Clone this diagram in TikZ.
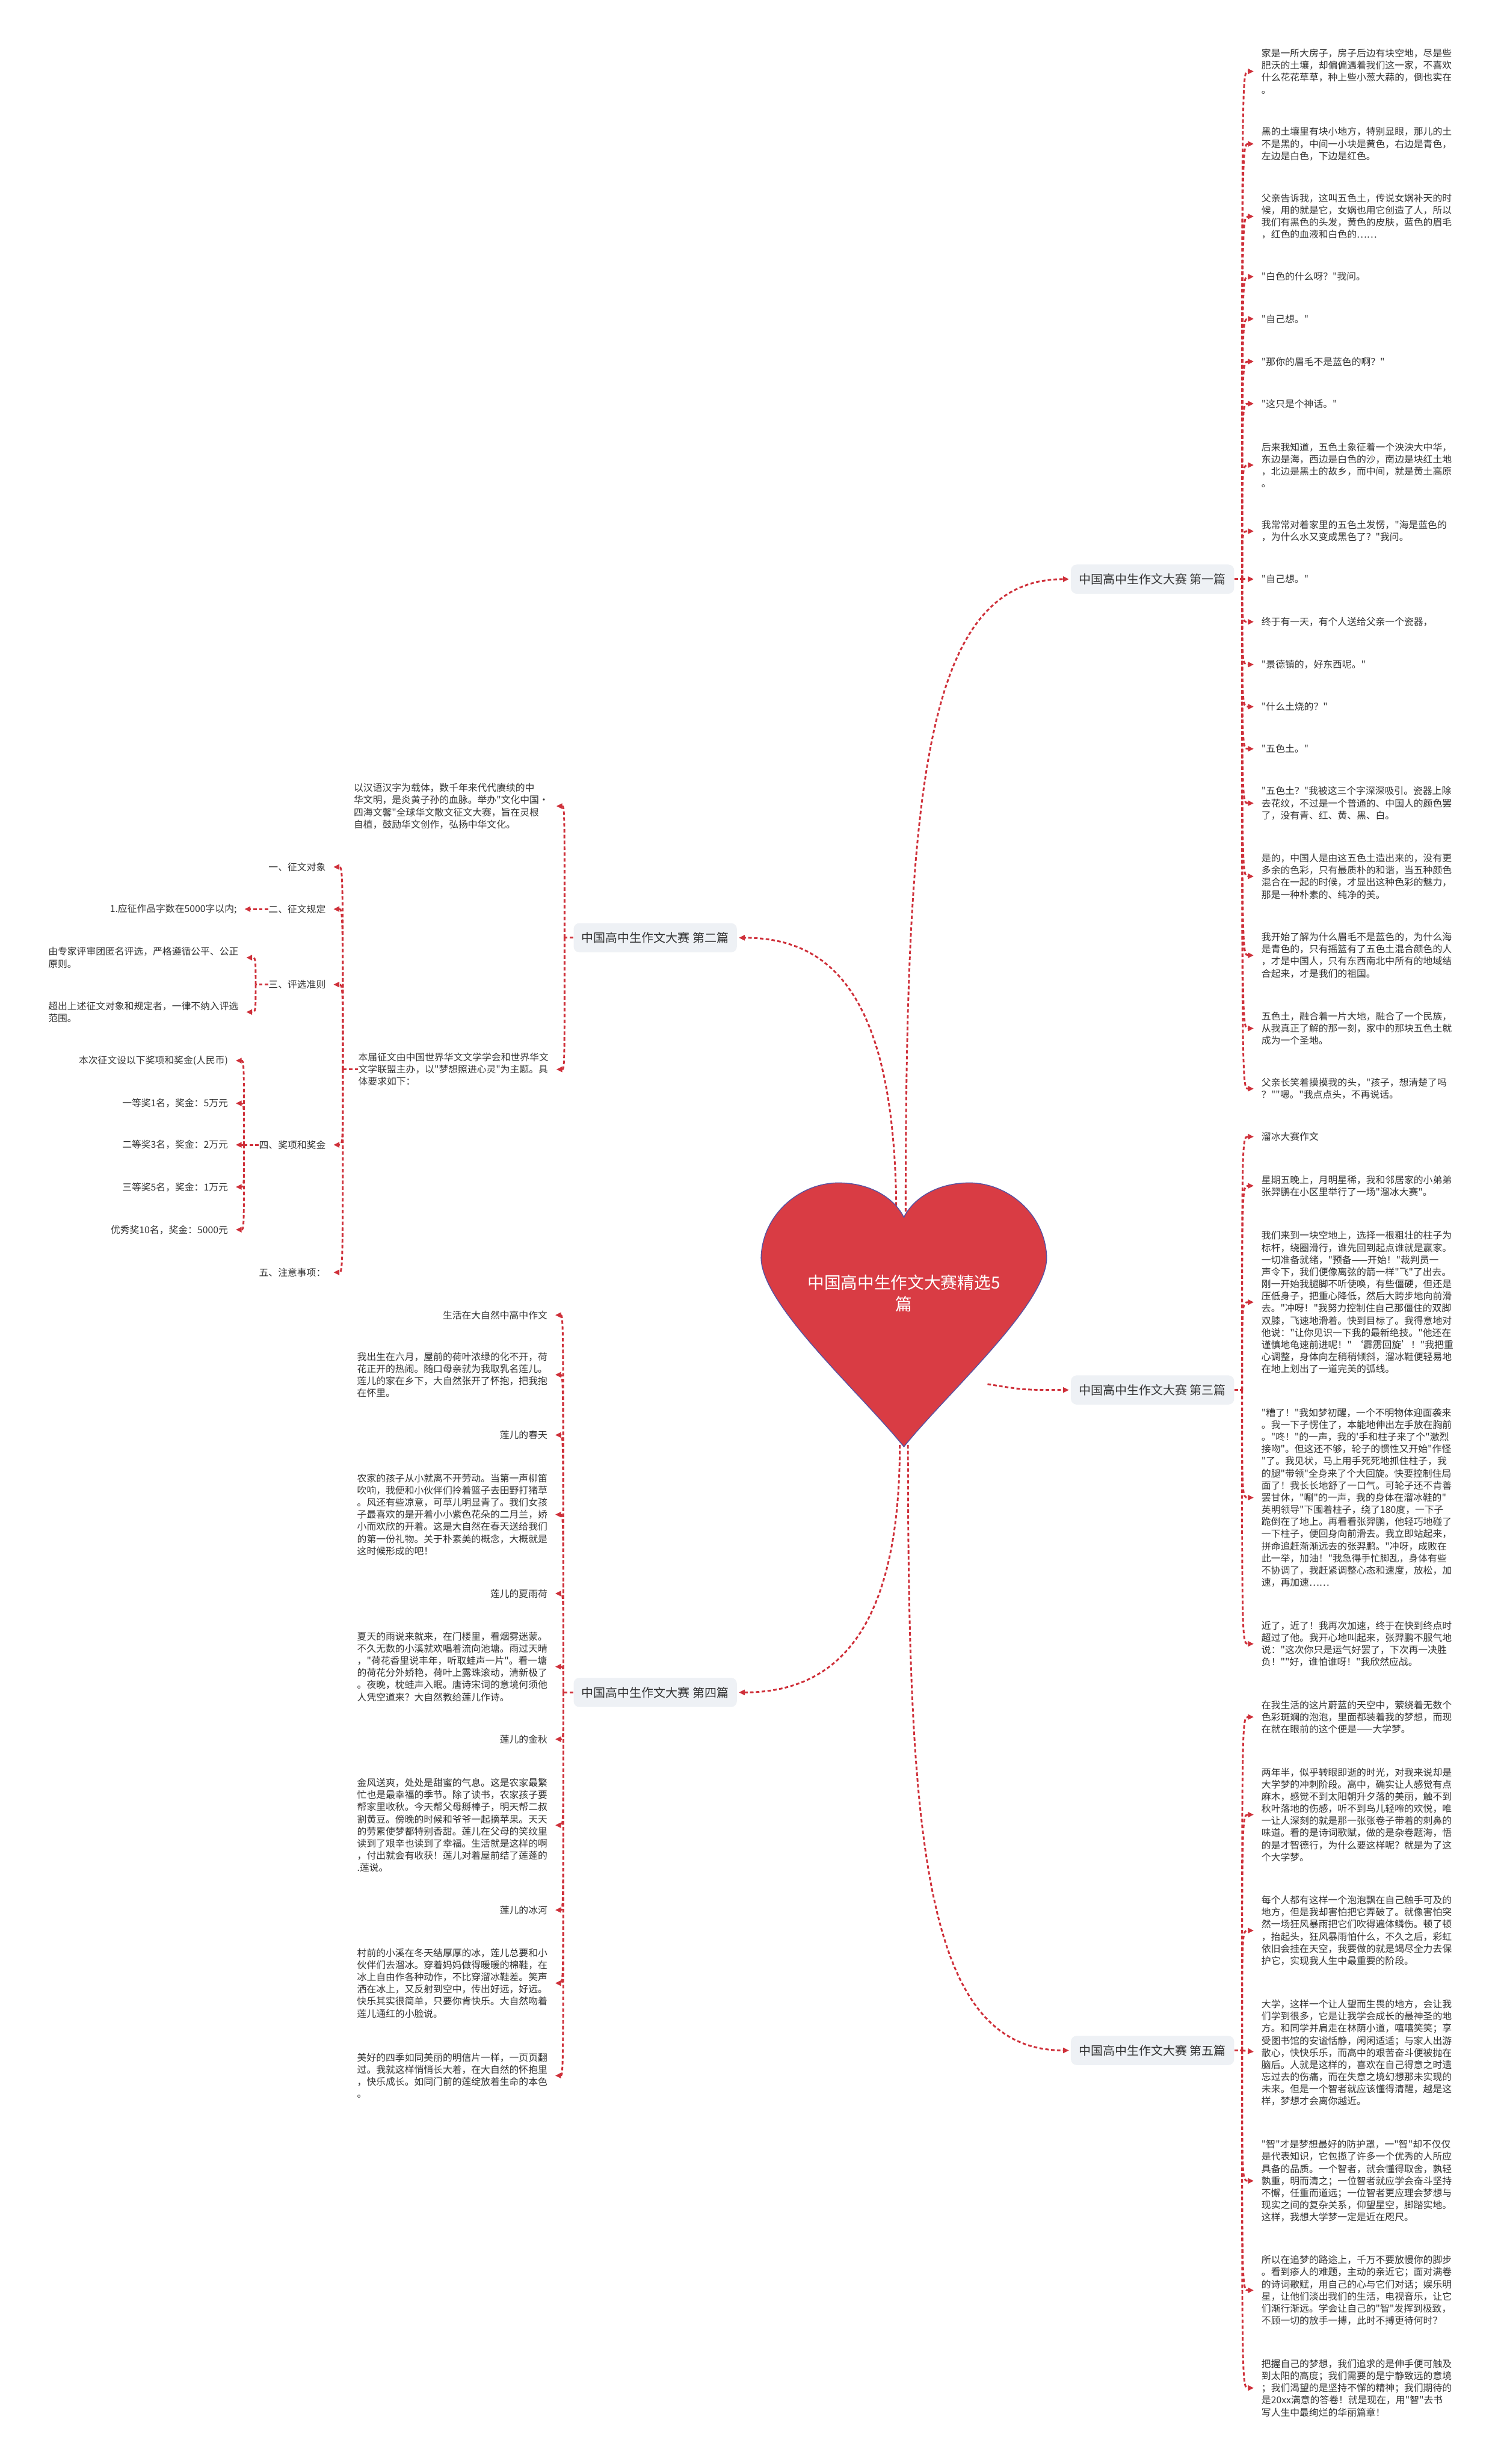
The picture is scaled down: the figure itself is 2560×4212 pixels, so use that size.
\documentclass[tikz,border=0pt]{standalone}
\usepackage{xcolor}
\usepackage{fontspec}
\usepackage{tikz}
\usetikzlibrary{arrows.meta, positioning, calc}
\newfontfamily\cjk{Noto Sans CJK SC}
\definecolor{linkred}{RGB}{207,48,58}
\definecolor{heartred}{RGB}{217,60,68}
\definecolor{heartedge}{RGB}{90,82,160}
\definecolor{boxfill}{RGB}{238,241,245}
\definecolor{inkgray}{RGB}{51,51,51}
\tikzstyle{leaf} = [inner sep=0pt, align=left, text=inkgray, font=\cjk\fontsize{9.25}{11.8}\selectfont]
\tikzstyle{branch} = [rectangle, rounded corners=2mm, minimum width=55.8mm, minimum height=10mm, fill=boxfill, text=inkgray, font=\cjk\fontsize{11.7}{14}\selectfont]
\tikzstyle{link} = [linkred, line width=0.6mm, dash pattern=on 1.2mm off 0.8mm]
\tikzstyle{arrow} = [link, -{Triangle[length=2mm,width=1.8mm]}, shorten >=2.6mm]

\begin{document}
\begin{tikzpicture}[x=0.2mm, y=-0.2mm]
    \path [use as bounding box, fill=white] (0,0) rectangle (2560,4212);

    % Heart connectors
    \coordinate (ht1) at (1548,2081);
    \coordinate (ht2) at (1532,2081);
    \coordinate (hb1) at (1538,2470);
    \coordinate (hb2) at (1552,2470);
    \coordinate (hr) at (1688,2366);
    \node (b1) [branch] at (1970,990) {中国高中生作文大赛 第一篇};
    \node (b2) [branch] at (1120,1603) {中国高中生作文大赛 第二篇};
    \node (b3) [branch] at (1970,2376) {中国高中生作文大赛 第三篇};
    \node (b4) [branch] at (1120,2893) {中国高中生作文大赛 第四篇};
    \node (b5) [branch] at (1970,3505) {中国高中生作文大赛 第五篇};
    \draw [arrow, shorten >=0.6mm] (ht1) .. controls (1548,1350) and (1580,990) .. (b1.west);
    \draw [arrow, shorten >=0.6mm] (ht2) .. controls (1532,1700) and (1420,1603) .. (b2.east);
    \draw [arrow, shorten >=0.6mm] (hr) .. controls (1750,2376) .. (b3.west);
    \draw [arrow, shorten >=0.6mm] (hb1) .. controls (1538,2800) and (1420,2893) .. (b4.east);
    \draw [arrow, shorten >=0.6mm] (hb2) .. controls (1552,3150) and (1580,3505) .. (b5.west);

    % Heart
    \filldraw [fill=heartred, draw=heartedge, line width=0.3mm]
        (1545,2081) .. controls (1530,2050) and (1490,2022) .. (1433,2022)
        .. controls (1368,2022) and (1303,2075) .. (1301,2150)
        .. controls (1301,2230) and (1470,2380) .. (1545,2473)
        .. controls (1620,2380) and (1789,2230) .. (1789,2150)
        .. controls (1787,2075) and (1722,2022) .. (1657,2022)
        .. controls (1600,2022) and (1560,2050) .. (1545,2081) -- cycle;
    \node (title) [font=\cjk\fontsize{16.2}{21}\selectfont, text=white, align=center] at (1545,2211) {中国高中生作文大赛精选5\\篇};

    % 第一篇
    \coordinate (j1) at (2123,990);
    \draw [link] (b1.east) -- (j1);
    \node (p1a) [leaf, anchor=west] at (2156,122) {家是一所大房子，房子后边有块空地，尽是些\\肥沃的土壤，却偏偏遇着我们这一家，不喜欢\\什么花花草草，种上些小葱大蒜的，倒也实在\\。};
    \node (p1b) [leaf, anchor=west] at (2156,246) {黑的土壤里有块小地方，特别显眼，那儿的土\\不是黑的，中间一小块是黄色，右边是青色，\\左边是白色，下边是红色。};
    \node (p1c) [leaf, anchor=west] at (2156,370) {父亲告诉我，这叫五色土，传说女娲补天的时\\候，用的就是它，女娲也用它创造了人，所以\\我们有黑色的头发，黄色的皮肤，蓝色的眉毛\\，红色的血液和白色的……};
    \node (p1d) [leaf, anchor=west] at (2156,473) {"白色的什么呀？"我问。};
    \node (p1e) [leaf, anchor=west] at (2156,545) {"自己想。"};
    \node (p1f) [leaf, anchor=west] at (2156,618) {"那你的眉毛不是蓝色的啊？"};
    \node (p1g) [leaf, anchor=west] at (2156,690) {"这只是个神话。"};
    \node (p1h) [leaf, anchor=west] at (2156,795) {后来我知道，五色土象征着一个泱泱大中华，\\东边是海，西边是白色的沙，南边是块红土地\\，北边是黑土的故乡，而中间，就是黄土高原\\。};
    \node (p1i) [leaf, anchor=west] at (2156,908) {我常常对着家里的五色土发愣，"海是蓝色的\\，为什么水又变成黑色了？"我问。};
    \node (p1j) [leaf, anchor=west] at (2156,990) {"自己想。"};
    \node (p1k) [leaf, anchor=west] at (2156,1063) {终于有一天，有个人送给父亲一个瓷器，};
    \node (p1l) [leaf, anchor=west] at (2156,1136) {"景德镇的，好东西呢。"};
    \node (p1m) [leaf, anchor=west] at (2156,1208) {"什么土烧的？"};
    \node (p1n) [leaf, anchor=west] at (2156,1280) {"五色土。"};
    \node (p1o) [leaf, anchor=west] at (2156,1373) {"五色土？"我被这三个字深深吸引。瓷器上除\\去花纹，不过是一个普通的、中国人的颜色罢\\了，没有青、红、黄、黑、白。};
    \node (p1p) [leaf, anchor=west] at (2156,1498) {是的，中国人是由这五色土造出来的，没有更\\多余的色彩，只有最质朴的和谐，当五种颜色\\混合在一起的时候，才显出这种色彩的魅力，\\那是一种朴素的、纯净的美。};
    \node (p1q) [leaf, anchor=west] at (2156,1633) {我开始了解为什么眉毛不是蓝色的，为什么海\\是青色的，只有摇篮有了五色土混合颜色的人\\，才是中国人，只有东西南北中所有的地域结\\合起来，才是我们的祖国。};
    \node (p1r) [leaf, anchor=west] at (2156,1758) {五色土，融合着一片大地，融合了一个民族，\\从我真正了解的那一刻，家中的那块五色土就\\成为一个圣地。};
    \node (p1s) [leaf, anchor=west] at (2156,1861) {父亲长笑着摸摸我的头，"孩子，想清楚了吗\\？""嗯。"我点点头，不再说话。};
    \draw [arrow] (j1) .. controls (j1 |- p1a.west) .. (p1a.west);
    \draw [arrow] (j1) .. controls (j1 |- p1b.west) .. (p1b.west);
    \draw [arrow] (j1) .. controls (j1 |- p1c.west) .. (p1c.west);
    \draw [arrow] (j1) .. controls (j1 |- p1d.west) .. (p1d.west);
    \draw [arrow] (j1) .. controls (j1 |- p1e.west) .. (p1e.west);
    \draw [arrow] (j1) .. controls (j1 |- p1f.west) .. (p1f.west);
    \draw [arrow] (j1) .. controls (j1 |- p1g.west) .. (p1g.west);
    \draw [arrow] (j1) .. controls (j1 |- p1h.west) .. (p1h.west);
    \draw [arrow] (j1) .. controls (j1 |- p1i.west) .. (p1i.west);
    \draw [arrow] (j1) -- (p1j.west);
    \draw [arrow] (j1) .. controls (j1 |- p1k.west) .. (p1k.west);
    \draw [arrow] (j1) .. controls (j1 |- p1l.west) .. (p1l.west);
    \draw [arrow] (j1) .. controls (j1 |- p1m.west) .. (p1m.west);
    \draw [arrow] (j1) .. controls (j1 |- p1n.west) .. (p1n.west);
    \draw [arrow] (j1) .. controls (j1 |- p1o.west) .. (p1o.west);
    \draw [arrow] (j1) .. controls (j1 |- p1p.west) .. (p1p.west);
    \draw [arrow] (j1) .. controls (j1 |- p1q.west) .. (p1q.west);
    \draw [arrow] (j1) .. controls (j1 |- p1r.west) .. (p1r.west);
    \draw [arrow] (j1) .. controls (j1 |- p1s.west) .. (p1s.west);

    % 第二篇
    \coordinate (j2) at (965,1603);
    \draw [link] (b2.west) -- (j2);
    \node (p2a) [leaf, anchor=east] at (938,1378) {以汉语汉字为载体，数千年来代代赓续的中\\华文明，是炎黄子孙的血脉。举办"文化中国·\\四海文馨"全球华文散文征文大赛，旨在灵根\\自植，鼓励华文创作，弘扬中华文化。};
    \node (p2b) [leaf, anchor=east] at (938,1828) {本届征文由中国世界华文文学学会和世界华文\\文学联盟主办，以"梦想照进心灵"为主题。具\\体要求如下：};
    \draw [arrow] (j2) .. controls (j2 |- p2a.east) .. (p2a.east);
    \draw [arrow] (j2) .. controls (j2 |- p2b.east) .. (p2b.east);

    % 要求
    \coordinate (j2b) at (586,1828);
    \draw [link] (p2b.west) -- (j2b);
    \node (c1) [leaf, anchor=east] at (557,1482) {一、征文对象};
    \node (c2) [leaf, anchor=east] at (557,1554) {二、征文规定};
    \node (c3) [leaf, anchor=east] at (557,1683) {三、评选准则};
    \node (c4) [leaf, anchor=east] at (557,1957) {四、奖项和奖金};
    \node (c5) [leaf, anchor=east] at (557,2175) {五、注意事项：};
    \draw [arrow] (j2b) .. controls (j2b |- c1.east) .. (c1.east);
    \draw [arrow] (j2b) .. controls (j2b |- c2.east) .. (c2.east);
    \draw [arrow] (j2b) .. controls (j2b |- c3.east) .. (c3.east);
    \draw [arrow] (j2b) .. controls (j2b |- c4.east) .. (c4.east);
    \draw [arrow] (j2b) .. controls (j2b |- c5.east) .. (c5.east);

    % 征文规定, 评选准则
    \node (g1) [leaf, anchor=east] at (405,1554) {1.应征作品字数在5000字以内;};
    \draw [arrow] (c2.west) -- (g1.east);
    \coordinate (j2c) at (437,1683);
    \draw [link] (c3.west) -- (j2c);
    \node (g2) [leaf, anchor=east] at (408,1637) {由专家评审团匿名评选，严格遵循公平、公正\\原则。};
    \node (g3) [leaf, anchor=east] at (408,1730) {超出上述征文对象和规定者，一律不纳入评选\\范围。};
    \draw [arrow] (j2c) .. controls (j2c |- g2.east) .. (g2.east);
    \draw [arrow] (j2c) .. controls (j2c |- g3.east) .. (g3.east);

    % 奖项和奖金
    \coordinate (j2d) at (417,1957);
    \draw [link] (c4.west) -- (j2d);
    \node (h1) [leaf, anchor=east] at (390,1813) {本次征文设以下奖项和奖金(人民币)};
    \node (h2) [leaf, anchor=east] at (390,1886) {一等奖1名，奖金：5万元};
    \node (h3) [leaf, anchor=east] at (390,1957) {二等奖3名，奖金：2万元};
    \node (h4) [leaf, anchor=east] at (390,2029) {三等奖5名，奖金：1万元};
    \node (h5) [leaf, anchor=east] at (390,2102) {优秀奖10名，奖金：5000元};
    \draw [arrow] (j2d) .. controls (j2d |- h1.east) .. (h1.east);
    \draw [arrow] (j2d) .. controls (j2d |- h2.east) .. (h2.east);
    \draw [arrow] (j2d) -- (h3.east);
    \draw [arrow] (j2d) .. controls (j2d |- h4.east) .. (h4.east);
    \draw [arrow] (j2d) .. controls (j2d |- h5.east) .. (h5.east);

    % 第三篇
    \coordinate (j3) at (2123,2376);
    \draw [link] (b3.east) -- (j3);
    \node (p3a) [leaf, anchor=west] at (2156,1943) {溜冰大赛作文};
    \node (p3b) [leaf, anchor=west] at (2156,2027) {星期五晚上，月明星稀，我和邻居家的小弟弟\\张羿鹏在小区里举行了一场"溜冰大赛"。};
    \node (p3c) [leaf, anchor=west] at (2156,2226) {我们来到一块空地上，选择一根粗壮的柱子为\\标杆，绕圈滑行，谁先回到起点谁就是赢家。\\一切准备就绪，"预备——开始！"裁判员一\\声令下，我们便像离弦的箭一样"飞"了出去。\\刚一开始我腿脚不听使唤，有些僵硬，但还是\\压低身子，把重心降低，然后大跨步地向前滑\\去。"冲呀！"我努力控制住自己那僵住的双脚\\双膝，飞速地滑着。快到目标了。我得意地对\\他说："让你见识一下我的最新绝技。"他还在\\谨慎地龟速前进呢！" ‘霹雳回旋’！"我把重\\心调整，身体向左稍稍倾斜，溜冰鞋便轻易地\\在地上划出了一道完美的弧线。};
    \node (p3d) [leaf, anchor=west] at (2156,2560) {"糟了！"我如梦初醒，一个不明物体迎面袭来\\。我一下子愣住了，本能地伸出左手放在胸前\\。"咚！"的一声，我的'手和柱子来了个"激烈\\接吻"。但这还不够，轮子的惯性又开始"作怪\\"了。我见状，马上用手死死地抓住柱子，我\\的腿"带领"全身来了个大回旋。快要控制住局\\面了！我长长地舒了一口气。可轮子还不肯善\\罢甘休，"唰"的一声，我的身体在溜冰鞋的"\\英明领导"下围着柱子，绕了180度，一下子\\跪倒在了地上。再看看张羿鹏，他轻巧地碰了\\一下柱子，便回身向前滑去。我立即站起来，\\拼命追赶渐渐远去的张羿鹏。"冲呀，成败在\\此一举，加油！"我急得手忙脚乱，身体有些\\不协调了，我赶紧调整心态和速度，放松，加\\速，再加速……};
    \node (p3e) [leaf, anchor=west] at (2156,2810) {近了，近了！我再次加速，终于在快到终点时\\超过了他。我开心地叫起来，张羿鹏不服气地\\说："这次你只是运气好罢了，下次再一决胜\\负！""好，谁怕谁呀！"我欣然应战。};
    \draw [arrow] (j3) .. controls (j3 |- p3a.west) .. (p3a.west);
    \draw [arrow] (j3) .. controls (j3 |- p3b.west) .. (p3b.west);
    \draw [arrow] (j3) .. controls (j3 |- p3c.west) .. (p3c.west);
    \draw [arrow] (j3) .. controls (j3 |- p3d.west) .. (p3d.west);
    \draw [arrow] (j3) .. controls (j3 |- p3e.west) .. (p3e.west);

    % 第四篇
    \coordinate (j4) at (963,2893);
    \draw [link] (b4.west) -- (j4);
    \node (p4a) [leaf, anchor=east] at (936,2248) {生活在大自然中高中作文};
    \node (p4b) [leaf, anchor=east] at (936,2350) {我出生在六月，屋前的荷叶浓绿的化不开，荷\\花正开的热闹。随口母亲就为我取乳名莲儿。\\莲儿的家在乡下，大自然张开了怀抱，把我抱\\在怀里。};
    \node (p4c) [leaf, anchor=east] at (936,2453) {莲儿的春天};
    \node (p4d) [leaf, anchor=east] at (936,2589) {农家的孩子从小就离不开劳动。当第一声柳笛\\吹响，我便和小伙伴们拎着篮子去田野打猪草\\。风还有些凉意，可草儿明显青了。我们女孩\\子最喜欢的是开着小小紫色花朵的二月兰，娇\\小而欢欣的开着。这是大自然在春天送给我们\\的第一份礼物。关于朴素美的概念，大概就是\\这时候形成的吧！};
    \node (p4e) [leaf, anchor=east] at (936,2724) {莲儿的夏雨荷};
    \node (p4f) [leaf, anchor=east] at (936,2849) {夏天的雨说来就来，在门楼里，看烟雾迷蒙。\\不久无数的小溪就欢唱着流向池塘。雨过天晴\\，"荷花香里说丰年，听取蛙声一片"。看一塘\\的荷花分外娇艳，荷叶上露珠滚动，清新极了\\。夜晚，枕蛙声入眠。唐诗宋词的意境何须他\\人凭空道来？大自然教给莲儿作诗。};
    \node (p4g) [leaf, anchor=east] at (936,2973) {莲儿的金秋};
    \node (p4h) [leaf, anchor=east] at (936,3120) {金风送爽，处处是甜蜜的气息。这是农家最繁\\忙也是最幸福的季节。除了读书，农家孩子要\\帮家里收秋。今天帮父母掰棒子，明天帮二叔\\割黄豆。傍晚的时候和爷爷一起摘苹果。天天\\的劳累使梦都特别香甜。莲儿在父母的笑纹里\\读到了艰辛也读到了幸福。生活就是这样的啊\\，付出就会有收获！莲儿对着屋前结了莲蓬的\\.莲说。};
    \node (p4i) [leaf, anchor=east] at (936,3265) {莲儿的冰河};
    \node (p4j) [leaf, anchor=east] at (936,3390) {村前的小溪在冬天结厚厚的冰，莲儿总要和小\\伙伴们去溜冰。穿着妈妈做得暖暖的棉鞋，在\\冰上自由作各种动作，不比穿溜冰鞋差。笑声\\洒在冰上，又反射到空中，传出好远，好远。\\快乐其实很简单，只要你肯快乐。大自然吻着\\莲儿通红的小脸说。};
    \node (p4k) [leaf, anchor=east] at (936,3548) {美好的四季如同美丽的明信片一样，一页页翻\\过。我就这样悄悄长大着，在大自然的怀抱里\\，快乐成长。如同门前的莲绽放着生命的本色\\。};
    \draw [arrow] (j4) .. controls (j4 |- p4a.east) .. (p4a.east);
    \draw [arrow] (j4) .. controls (j4 |- p4b.east) .. (p4b.east);
    \draw [arrow] (j4) .. controls (j4 |- p4c.east) .. (p4c.east);
    \draw [arrow] (j4) .. controls (j4 |- p4d.east) .. (p4d.east);
    \draw [arrow] (j4) .. controls (j4 |- p4e.east) .. (p4e.east);
    \draw [arrow] (j4) .. controls (j4 |- p4f.east) .. (p4f.east);
    \draw [arrow] (j4) .. controls (j4 |- p4g.east) .. (p4g.east);
    \draw [arrow] (j4) .. controls (j4 |- p4h.east) .. (p4h.east);
    \draw [arrow] (j4) .. controls (j4 |- p4i.east) .. (p4i.east);
    \draw [arrow] (j4) .. controls (j4 |- p4j.east) .. (p4j.east);
    \draw [arrow] (j4) .. controls (j4 |- p4k.east) .. (p4k.east);

    % 第五篇
    \coordinate (j5) at (2123,3505);
    \draw [link] (b5.east) -- (j5);
    \node (p5a) [leaf, anchor=west] at (2156,2935) {在我生活的这片蔚蓝的天空中，萦绕着无数个\\色彩斑斓的泡泡，里面都装着我的梦想，而现\\在就在眼前的这个便是——大学梦。};
    \node (p5b) [leaf, anchor=west] at (2156,3102) {两年半，似乎转眼即逝的时光，对我来说却是\\大学梦的冲刺阶段。高中，确实让人感觉有点\\麻木，感觉不到太阳朝升夕落的美丽，触不到\\秋叶落地的伤感，听不到鸟儿轻啼的欢悦，唯\\一让人深刻的就是那一张张卷子带着的刺鼻的\\味道。看的是诗词歌赋，做的是杂卷题海，悟\\的是才智德行，为什么要这样呢？就是为了这\\个大学梦。};
    \node (p5c) [leaf, anchor=west] at (2156,3300) {每个人都有这样一个泡泡飘在自己触手可及的\\地方，但是我却害怕把它弄破了。就像害怕突\\然一场狂风暴雨把它们吹得遍体鳞伤。顿了顿\\，抬起头，狂风暴雨怕什么，不久之后，彩虹\\依旧会挂在天空，我要做的就是竭尽全力去保\\护它，实现我人生中最重要的阶段。};
    \node (p5d) [leaf, anchor=west] at (2156,3509) {大学，这样一个让人望而生畏的地方，会让我\\们学到很多，它是让我学会成长的最神圣的地\\方。和同学并肩走在林荫小道，嘻嘻笑笑；享\\受图书馆的安谧恬静，闲闲适适；与家人出游\\散心，快快乐乐，而高中的艰苦奋斗便被抛在\\脑后。人就是这样的，喜欢在自己得意之时遗\\忘过去的伤痛，而在失意之境幻想那未实现的\\未来。但是一个智者就应该懂得清醒，越是这\\样，梦想才会离你越近。};
    \node (p5e) [leaf, anchor=west] at (2156,3728) {"智"才是梦想最好的防护罩，一"智"却不仅仅\\是代表知识，它包揽了许多一个优秀的人所应\\具备的品质。一个智者，就会懂得取舍，孰轻\\孰重，明而清之；一位智者就应学会奋斗坚持\\不懈，任重而道远；一位智者更应理会梦想与\\现实之间的复杂关系，仰望星空，脚踏实地。\\这样，我想大学梦一定是近在咫尺。};
    \node (p5f) [leaf, anchor=west] at (2156,3915) {所以在追梦的路途上，千万不要放慢你的脚步\\。看到瘆人的难题，主动的亲近它；面对满卷\\的诗词歌赋，用自己的心与它们对话；娱乐明\\星，让他们淡出我们的生活，电视音乐，让它\\们渐行渐远。学会让自己的"智"发挥到极致，\\不顾一切的放手一搏，此时不搏更待何时？};
    \node (p5g) [leaf, anchor=west] at (2156,4082) {把握自己的梦想，我们追求的是伸手便可触及\\到太阳的高度；我们需要的是宁静致远的意境\\；我们渴望的是坚持不懈的精神；我们期待的\\是20xx满意的答卷！就是现在，用"智"去书\\写人生中最绚烂的华丽篇章！};
    \draw [arrow] (j5) .. controls (j5 |- p5a.west) .. (p5a.west);
    \draw [arrow] (j5) .. controls (j5 |- p5b.west) .. (p5b.west);
    \draw [arrow] (j5) .. controls (j5 |- p5c.west) .. (p5c.west);
    \draw [arrow] (j5) -- (p5d.west);
    \draw [arrow] (j5) .. controls (j5 |- p5e.west) .. (p5e.west);
    \draw [arrow] (j5) .. controls (j5 |- p5f.west) .. (p5f.west);
    \draw [arrow] (j5) .. controls (j5 |- p5g.west) .. (p5g.west);
\end{tikzpicture}
\end{document}
